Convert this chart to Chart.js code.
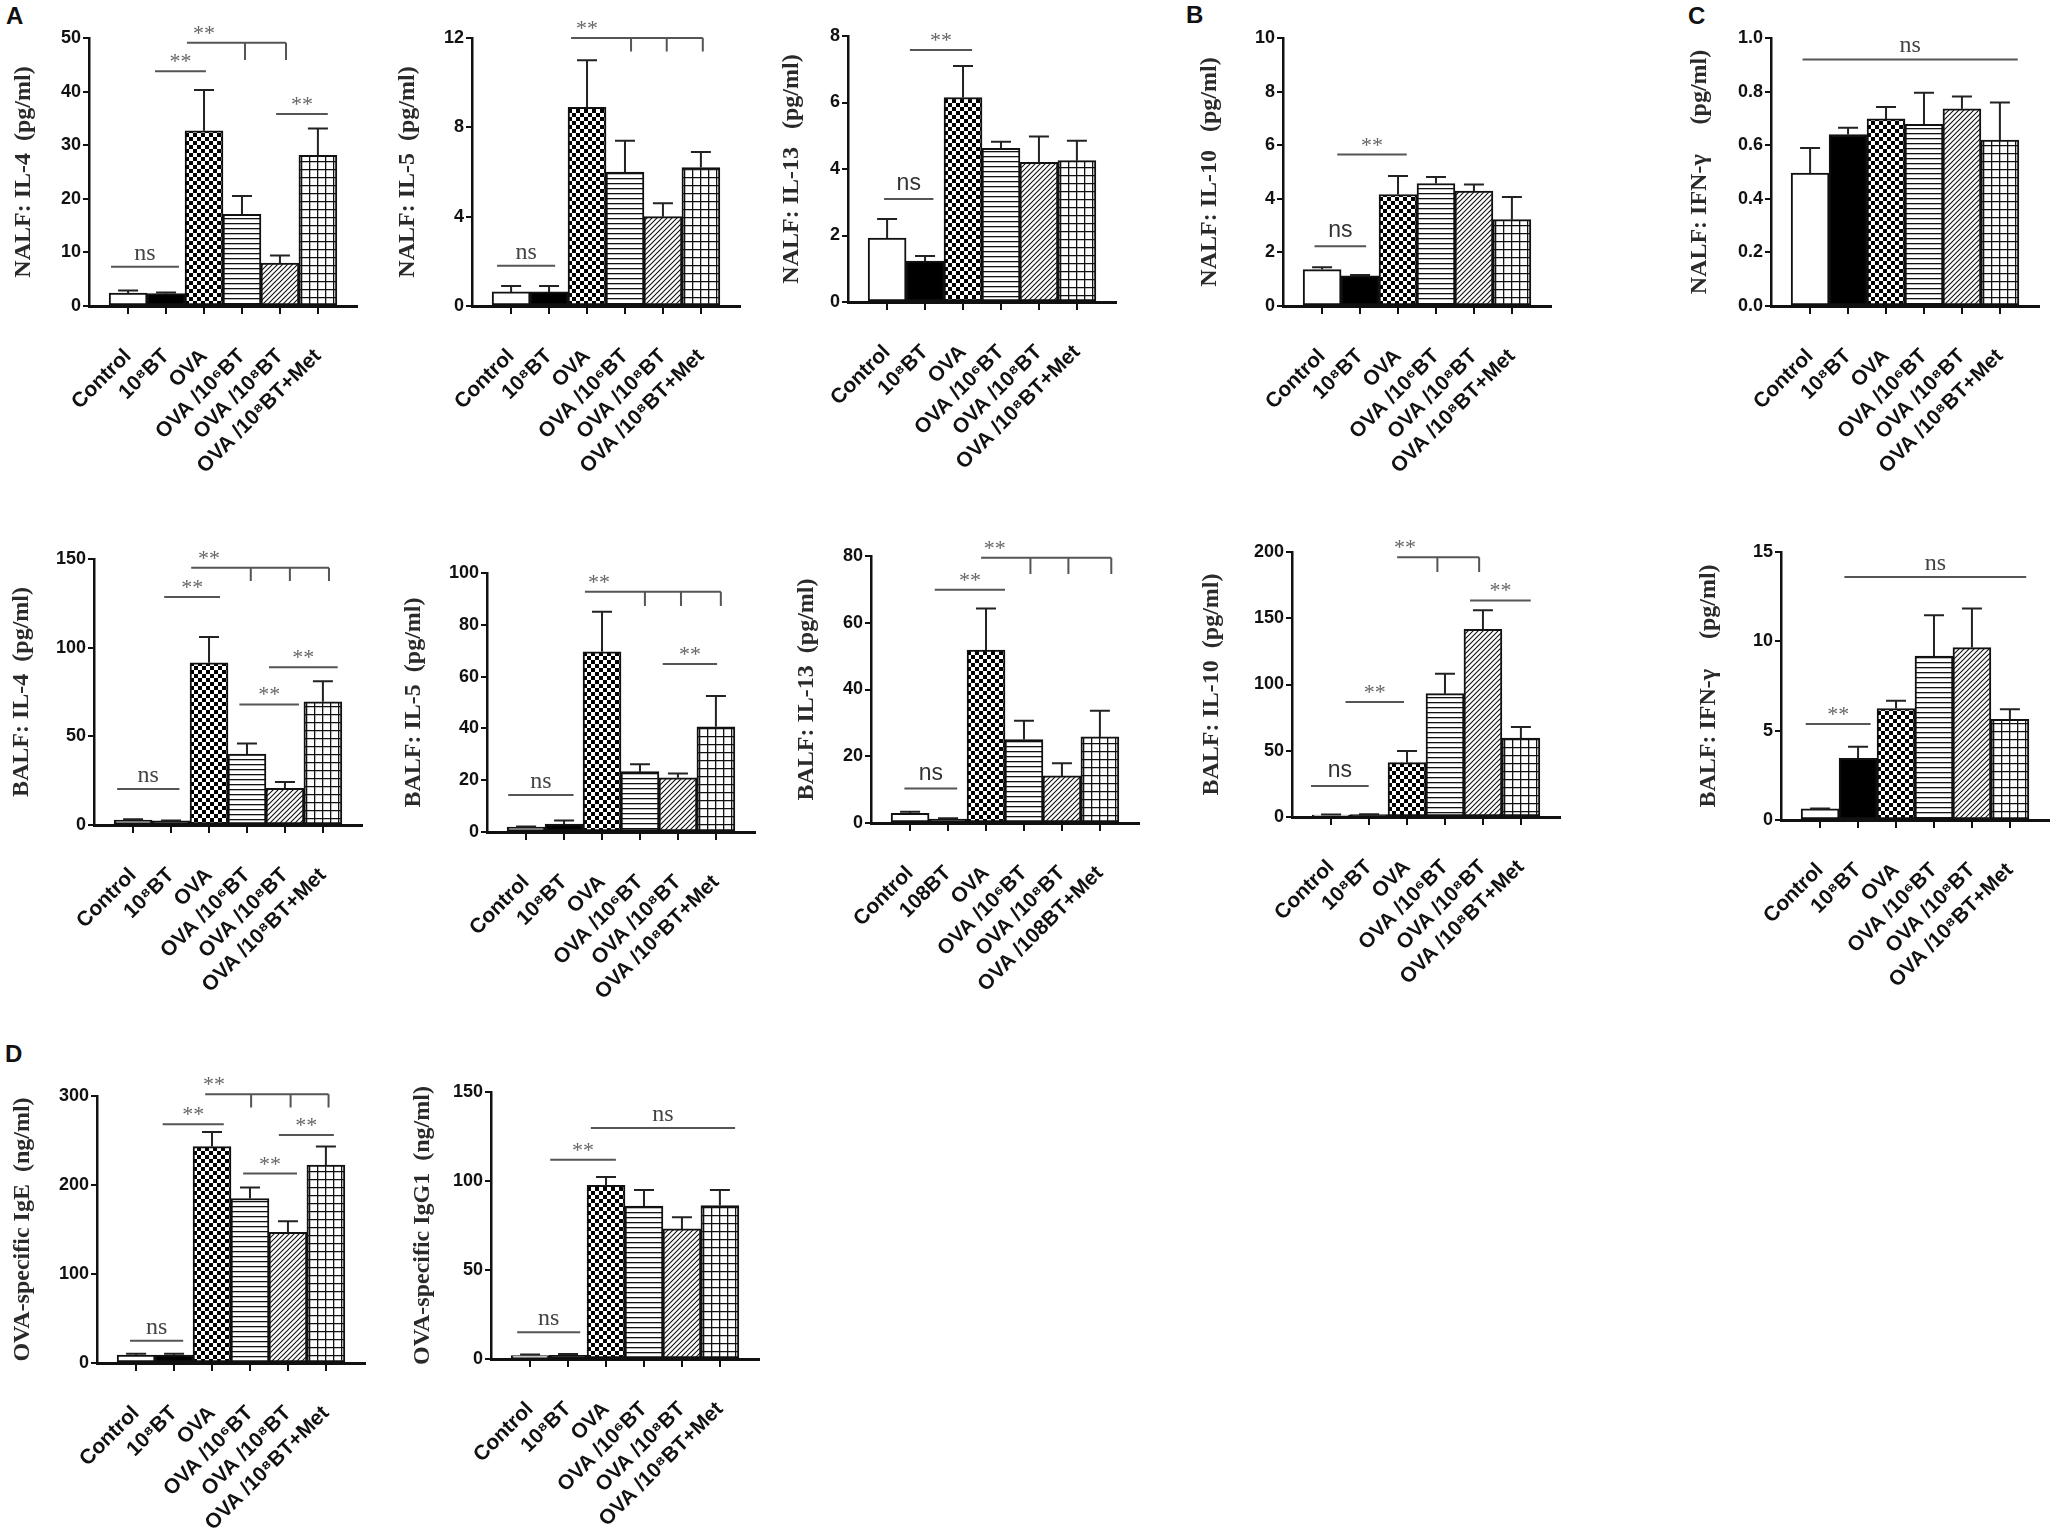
<!DOCTYPE html>
<html>
<head>
<meta charset="utf-8">
<script src="https://cdn.jsdelivr.net/npm/chart.js@4.4.0/dist/chart.umd.min.js"></script>
<style>
  body { margin: 0; background: #fff; width: 2055px; height: 1529px; position: relative; overflow: hidden; }
  canvas { position: absolute; }
  .letter { position: absolute; font: bold 24px "Liberation Sans", Arial, sans-serif; line-height: 24px; color: #111; }
</style>
</head>
<body>
<div class="letter" style="left:6px;top:4px">A</div>
<div class="letter" style="left:1186px;top:3px">B</div>
<div class="letter" style="left:1688px;top:4px">C</div>
<div class="letter" style="left:5px;top:1042px">D</div>

<script>
// Group names
const groups = ['Control', '10⁸BT', 'OVA', 'OVA /10⁶BT', 'OVA /10⁸BT', 'OVA /10⁸BT+Met'];
const groupsBalfIl13 = ['Control', '108BT', 'OVA', 'OVA /10⁶BT', 'OVA /10⁸BT', 'OVA /108BT+Met'];

// Means and SEM
const nalfIl4Mean = [2.4, 2.3, 32.7, 17.1, 8.0, 28.1];
const nalfIl4Sem = [0.5, 0.2, 7.6, 3.4, 1.4, 5.0];
const nalfIl5Mean = [0.63, 0.63, 8.9, 6.0, 4.0, 6.2];
const nalfIl5Sem = [0.27, 0.27, 2.1, 1.4, 0.6, 0.7];
const nalfIl13Mean = [1.92, 1.23, 6.15, 4.62, 4.2, 4.25];
const nalfIl13Sem = [0.58, 0.15, 0.95, 0.2, 0.78, 0.6];
const nalfIl10Mean = [1.36, 1.13, 4.16, 4.57, 4.29, 3.22];
const nalfIl10Sem = [0.09, 0.03, 0.69, 0.24, 0.24, 0.85];
const nalfIfnMean = [0.496, 0.64, 0.698, 0.678, 0.736, 0.619];
const nalfIfnSem = [0.094, 0.025, 0.045, 0.118, 0.046, 0.14];
const balfIl4Mean = [2.8, 2.3, 91.5, 40, 20.7, 69.5];
const balfIl4Sem = [0.4, 0.3, 14.5, 6, 3.6, 11.5];
const balfIl5Mean = [1.9, 3.1, 69.6, 23.3, 20.9, 40.6];
const balfIl5Sem = [0.2, 1.3, 15.4, 2.9, 1.7, 11.9];
const balfIl13Mean = [2.9, 1.2, 51.8, 25, 14.1, 25.8];
const balfIl13Sem = [0.5, 0.2, 12.5, 5.6, 3.8, 7.8];
const balfIl10Mean = [1.5, 1.8, 41, 93.1, 141.7, 59.6];
const balfIl10Sem = [0.3, 0.2, 8.8, 15.1, 14.3, 8.3];
const balfIfnMean = [0.62, 3.45, 6.24, 9.17, 9.65, 5.63];
const balfIfnSem = [0.03, 0.65, 0.43, 2.29, 2.19, 0.57];
const igeMean = [9, 9, 243.2, 184.8, 146.7, 222.5];
const igeSem = [1.5, 1.5, 16.4, 12.4, 12.7, 20.7];
const igg1Mean = [1.9, 2.1, 97.5, 85.9, 73.1, 86.2];
const igg1Sem = [0.6, 0.7, 4.7, 9.1, 6.6, 8.8];

// Significance marks (x in group index units, y in axis units)
const sigNalfIl4 = [
  { from: -0.45, to: 1.34, y: 7.3, text: 'ns', serif: true },
  { from: 0.71, to: 2.05, y: 43.8, text: '**' },
  { from: 1.55, to: 4.16, y: 49.1, text: '**', drops: [3.08, 4.16], dropTo: 45.9, labelAt: 2.0 },
  { from: 3.9, to: 5.26, y: 35.8, text: '**' }
];
const sigNalfIl5 = [
  { from: -0.37, to: 1.16, y: 1.8, text: 'ns', serif: true },
  { from: 1.58, to: 5.05, y: 12.0, text: '**', drops: [3.16, 4.1, 5.05], dropTo: 11.4, labelAt: 2.0 }
];
const sigNalfIl13 = [
  { from: -0.08, to: 1.22, y: 3.1, text: 'ns' },
  { from: 0.6, to: 2.24, y: 7.58, text: '**' }
];
const sigNalfIl10 = [
  { from: -0.2, to: 1.16, y: 2.23, text: 'ns' },
  { from: 0.4, to: 2.23, y: 5.65, text: '**' }
];
const sigNalfIfn = [
  { from: -0.2, to: 5.47, y: 0.92, text: 'ns', serif: true }
];
const sigBalfIl4 = [
  { from: -0.42, to: 1.22, y: 20.3, text: 'ns', serif: true },
  { from: 0.82, to: 2.29, y: 128.6, text: '**' },
  { from: 1.53, to: 5.16, y: 145, text: '**', drops: [3.1, 4.13, 5.16], dropTo: 137.6, labelAt: 2.0 },
  { from: 2.8, to: 4.37, y: 68, text: '**' },
  { from: 3.58, to: 5.39, y: 89, text: '**' }
];
const sigBalfIl5 = [
  { from: -0.47, to: 1.25, y: 14.3, text: 'ns', serif: true },
  { from: 1.55, to: 5.13, y: 92.8, text: '**', drops: [3.13, 4.08, 5.13], dropTo: 87.3, labelAt: 1.92 },
  { from: 3.6, to: 5.03, y: 64.9, text: '**' }
];
const sigBalfIl13 = [
  { from: -0.15, to: 1.24, y: 10.3, text: 'ns' },
  { from: 0.65, to: 2.5, y: 69.9, text: '**' },
  { from: 1.87, to: 5.3, y: 79.5, text: '**', drops: [3.17, 4.17, 5.3], dropTo: 74.6, labelAt: 2.23 }
];
const sigBalfIl10 = [
  { from: -0.53, to: 0.99, y: 23.4, text: 'ns' },
  { from: 0.38, to: 1.92, y: 86.8, text: '**' },
  { from: 1.74, to: 3.9, y: 196, text: '**', drops: [2.8, 3.9], dropTo: 185, labelAt: 1.95 },
  { from: 3.66, to: 5.26, y: 163.4, text: '**' }
];
const sigBalfIfn = [
  { from: -0.38, to: 1.33, y: 5.37, text: '**' },
  { from: 0.64, to: 5.43, y: 13.6, text: 'ns', serif: true }
];
const sigIge = [
  { from: -0.16, to: 1.24, y: 25, text: 'ns', serif: true },
  { from: 0.7, to: 2.31, y: 268.3, text: '**' },
  { from: 1.82, to: 5.07, y: 301.9, text: '**', drops: [3.03, 4.07, 5.07], dropTo: 287, labelAt: 2.05 },
  { from: 2.82, to: 4.24, y: 212.8, text: '**' },
  { from: 3.76, to: 5.21, y: 256.2, text: '**' }
];
const sigIgg1 = [
  { from: -0.34, to: 1.32, y: 15, text: 'ns', serif: true },
  { from: 0.53, to: 2.26, y: 112, text: '**' },
  { from: 1.6, to: 5.4, y: 129.8, text: 'ns', serif: true }
];

// Panel layout: y axis position, pixel of axis max and of zero
const panels = [
  { title: 'NALF: IL-4  (pg/ml)', labels: groups, mean: nalfIl4Mean, sem: nalfIl4Sem, sig: sigNalfIl4, max: 50, step: 10, axisX: 89, topY: 38, zeroY: 306, titleGap: 66 },
  { title: 'NALF: IL-5  (pg/ml)', labels: groups, mean: nalfIl5Mean, sem: nalfIl5Sem, sig: sigNalfIl5, max: 12, step: 4, axisX: 472, topY: 38, zeroY: 306, titleGap: 65 },
  { title: 'NALF: IL-13   (pg/ml)', labels: groups, mean: nalfIl13Mean, sem: nalfIl13Sem, sig: sigNalfIl13, max: 8, step: 2, axisX: 848, topY: 36, zeroY: 302, titleGap: 57 },
  { title: 'NALF: IL-10   (pg/ml)', labels: groups, mean: nalfIl10Mean, sem: nalfIl10Sem, sig: sigNalfIl10, max: 10, step: 2, axisX: 1283, topY: 38, zeroY: 306, titleGap: 74 },
  { title: 'NALF: IFN-γ     (pg/ml)', labels: groups, mean: nalfIfnMean, sem: nalfIfnSem, sig: sigNalfIfn, max: 1, step: 0.2, decimals: 1, axisX: 1771, topY: 38, zeroY: 306, titleGap: 72 },
  { title: 'BALF: IL-4  (pg/ml)', labels: groups, mean: balfIl4Mean, sem: balfIl4Sem, sig: sigBalfIl4, max: 150, step: 50, axisX: 94, topY: 559, zeroY: 825, titleGap: 73 },
  { title: 'BALF: IL-5  (pg/ml)', labels: groups, mean: balfIl5Mean, sem: balfIl5Sem, sig: sigBalfIl5, max: 100, step: 20, axisX: 487, topY: 573, zeroY: 832, titleGap: 74 },
  { title: 'BALF: IL-13  (pg/ml)', labels: groupsBalfIl13, mean: balfIl13Mean, sem: balfIl13Sem, sig: sigBalfIl13, max: 80, step: 20, axisX: 871, topY: 556, zeroY: 823, titleGap: 65 },
  { title: 'BALF: IL-10  (pg/ml)', labels: groups, mean: balfIl10Mean, sem: balfIl10Sem, sig: sigBalfIl10, max: 200, step: 50, axisX: 1292, topY: 552, zeroY: 817, titleGap: 81 },
  { title: 'BALF: IFN-γ     (pg/ml)', labels: groups, mean: balfIfnMean, sem: balfIfnSem, sig: sigBalfIfn, max: 15, step: 5, axisX: 1781, topY: 552, zeroY: 820, titleGap: 73 },
  { title: 'OVA-specific IgE  (ng/ml)', labels: groups, mean: igeMean, sem: igeSem, sig: sigIge, max: 300, step: 100, axisX: 97, topY: 1096, zeroY: 1363, titleGap: 75 },
  { title: 'OVA-specific IgG1  (ng/ml)', labels: groups, mean: igg1Mean, sem: igg1Sem, sig: sigIgg1, max: 150, step: 50, axisX: 491, topY: 1092, zeroY: 1359, titleGap: 69 }
];

const SANS = '"Liberation Sans", Arial, sans-serif';
const SERIF = '"Liberation Serif", "Times New Roman", serif';
const Y_BOX = 100;   // width kept for y axis + title
const X_BOX = 210;   // height kept for x labels
const TOP_PAD = 45;
const PLOT_W = 268;
const RIGHT_PAD = 20;

// Fill patterns for the six groups
function makePattern(kind) {
  if (kind === 'white') return '#ffffff';
  if (kind === 'black') return '#000000';
  const c = document.createElement('canvas');
  const ctx = c.getContext('2d');
  const size = kind === 'check' ? 8 : kind === 'grid' ? 8 : 5;
  c.width = size;
  c.height = size;
  ctx.fillStyle = '#fff';
  ctx.fillRect(0, 0, size, size);
  ctx.fillStyle = '#000';
  ctx.strokeStyle = '#111';
  if (kind === 'check') {
    ctx.fillRect(0, 0, 4, 4);
    ctx.fillRect(4, 4, 4, 4);
  } else if (kind === 'hlines') {
    ctx.lineWidth = 1.3;
    ctx.beginPath(); ctx.moveTo(0, 0.65); ctx.lineTo(size, 0.65); ctx.stroke();
  } else if (kind === 'diag') {
    ctx.lineWidth = 1.1;
    ctx.beginPath();
    ctx.moveTo(-1, size + 1); ctx.lineTo(size + 1, -1);
    ctx.moveTo(-1, 1); ctx.lineTo(1, -1);
    ctx.moveTo(size - 1, size + 1); ctx.lineTo(size + 1, size - 1);
    ctx.stroke();
  } else if (kind === 'grid') {
    ctx.lineWidth = 1.3;
    ctx.beginPath();
    ctx.moveTo(0, 0.65); ctx.lineTo(size, 0.65);
    ctx.moveTo(0.65, 0); ctx.lineTo(0.65, size);
    ctx.stroke();
  }
  return ctx.createPattern(c, 'repeat');
}

const fills = ['white', 'black', 'check', 'hlines', 'diag', 'grid'].map(makePattern);

// Error bars and significance lines drawn on top of the bars
function makeOverlay(p) {
  return {
    id: 'overlay',
    afterDatasetsDraw(chart) {
      const ctx = chart.ctx;
      const xs = chart.scales.x;
      const ys = chart.scales.y;
      ctx.save();
      // error bars (upper half only)
      ctx.strokeStyle = '#222';
      ctx.lineWidth = 2;
      p.mean.forEach((m, i) => {
        const x = xs.getPixelForValue(i);
        const y0 = ys.getPixelForValue(m);
        const y1 = ys.getPixelForValue(m + p.sem[i]);
        ctx.beginPath();
        ctx.moveTo(x, y0);
        ctx.lineTo(x, y1);
        ctx.moveTo(x - 10, y1);
        ctx.lineTo(x + 10, y1);
        ctx.stroke();
      });
      // significance
      p.sig.forEach(s => {
        const x0 = xs.getPixelForValue(s.from);
        const x1 = xs.getPixelForValue(s.to);
        const y = ys.getPixelForValue(s.y);
        ctx.strokeStyle = '#555';
        ctx.lineWidth = 2;
        ctx.beginPath();
        ctx.moveTo(x0, y);
        ctx.lineTo(x1, y);
        if (s.drops) {
          const yd = ys.getPixelForValue(s.dropTo);
          s.drops.forEach(d => {
            const xd = xs.getPixelForValue(d);
            ctx.moveTo(xd, y);
            ctx.lineTo(xd, yd);
          });
        }
        ctx.stroke();
        const lx = s.labelAt !== undefined ? xs.getPixelForValue(s.labelAt) : (x0 + x1) / 2;
        ctx.textAlign = 'center';
        ctx.textBaseline = 'alphabetic';
        if (s.text === '**') {
          ctx.fillStyle = '#666';
          ctx.font = '22px ' + SERIF;
          ctx.fillText('**', lx, y - 3);
        } else if (s.serif) {
          ctx.fillStyle = '#444';
          ctx.font = '24px ' + SERIF;
          ctx.fillText(s.text, lx, y - 7);
        } else {
          ctx.fillStyle = '#333';
          ctx.font = '23px ' + SANS;
          ctx.fillText(s.text, lx, y - 9);
        }
      });
      ctx.restore();
    }
  };
}

function createPanel(p) {
  const canvas = document.createElement('canvas');
  const w = Y_BOX + PLOT_W + RIGHT_PAD;
  const h = TOP_PAD + (p.zeroY - p.topY) + X_BOX;
  canvas.width = w;
  canvas.height = h;
  canvas.style.width = w + 'px';
  canvas.style.height = h + 'px';
  canvas.style.left = (p.axisX - Y_BOX) + 'px';
  canvas.style.top = (p.topY - TOP_PAD) + 'px';
  document.body.appendChild(canvas);

  return new Chart(canvas.getContext('2d'), {
    type: 'bar',
    data: {
      datasets: [{
        data: p.mean.map((v, i) => ({ x: i, y: v })),
        backgroundColor: fills,
        borderColor: '#111',
        borderWidth: 2,
        borderSkipped: false,
        barPercentage: 1,
        categoryPercentage: 1
      }]
    },
    options: {
      responsive: false,
      animation: false,
      layout: { padding: { top: TOP_PAD, right: RIGHT_PAD, left: 0, bottom: 0 } },
      plugins: { legend: { display: false }, tooltip: { enabled: false } },
      scales: {
        x: {
          type: 'linear',
          min: -1.03,
          max: 6.03,
          offset: false,
          afterBuildTicks: s => { s.ticks = p.labels.map((_, i) => ({ value: i })); },
          afterFit: s => { s.height = X_BOX; },
          ticks: {
            autoSkip: false,
            minRotation: 45,
            maxRotation: 45,
            padding: 30,
            color: '#111',
            font: { family: SANS, size: 21, weight: 'bold' },
            callback: v => p.labels[v]
          },
          grid: { offset: false, drawOnChartArea: false, drawTicks: true, tickLength: 8, color: '#111', lineWidth: 2 },
          border: { display: true, color: '#111', width: 3 }
        },
        y: {
          min: 0,
          max: p.max,
          afterFit: s => { s.width = Y_BOX; },
          ticks: {
            stepSize: p.step,
            padding: 2,
            color: '#111',
            font: { family: SANS, size: 18, weight: 'bold' },
            callback: v => p.decimals ? Number(v).toFixed(p.decimals) : v
          },
          grid: { drawOnChartArea: false, drawTicks: true, tickLength: 6, color: '#111', lineWidth: 2 },
          border: { display: true, color: '#111', width: 2.5 },
          title: {
            display: true,
            text: p.title,
            color: '#2a2a2a',
            font: { family: SERIF, size: 24, weight: 'bold' },
            padding: { top: Y_BOX - p.titleGap - 14, bottom: 0 }
          }
        }
      }
    },
    plugins: [makeOverlay(p)]
  });
}

panels.forEach(createPanel);
</script>
</body>
</html>
